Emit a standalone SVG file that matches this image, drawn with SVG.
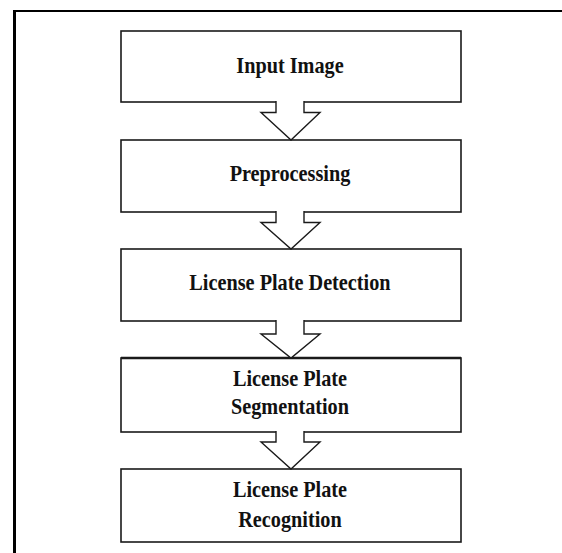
<svg xmlns="http://www.w3.org/2000/svg" width="562" height="553" viewBox="0 0 562 553">
<style>
.box{fill:#fff;stroke:#1a1a1a;stroke-width:1.6}
.arr{fill:#fff;stroke:#1a1a1a;stroke-width:1.4;stroke-linejoin:miter}
.t{font-family:"Liberation Serif","Times New Roman",serif;font-weight:bold;font-size:22.5px;fill:#111;text-anchor:middle}
.frame{stroke:#000;fill:none}
</style>
<rect width="562" height="553" fill="#fff"/>
<g id="frame">
<line class="frame" x1="13" y1="11" x2="562" y2="11" stroke-width="2.2"/>
<line class="frame" x1="14.5" y1="10" x2="14.5" y2="553" stroke-width="3"/>
</g>
<g id="n1">
<rect class="box" x="121" y="31" width="340" height="71"/>
<text class="t" transform="scale(0.9,1)" x="322.2" y="73">Input Image</text>
</g>
<g id="n2">
<rect class="box" x="121" y="140" width="340" height="72"/>
<text class="t" transform="scale(0.9,1)" x="322.2" y="181">Preprocessing</text>
</g>
<g id="n3">
<rect class="box" x="121" y="249" width="340" height="72"/>
<text class="t" transform="scale(0.9,1)" x="322.2" y="290">License Plate Detection</text>
</g>
<g id="n4">
<rect class="box" x="121" y="358" width="340" height="74"/>
<line x1="121" y1="358" x2="461" y2="358" stroke="#1a1a1a" stroke-width="2.4"/>
<text class="t" transform="scale(0.9,1)" x="322.2" y="386">License Plate</text>
<text class="t" transform="scale(0.9,1)" x="322.2" y="414">Segmentation</text>
</g>
<g id="n5">
<rect class="box" x="121" y="469" width="340" height="73"/>
<text class="t" transform="scale(0.9,1)" x="322.2" y="497">License Plate</text>
<text class="t" transform="scale(0.9,1)" x="322.2" y="527">Recognition</text>
</g>
<g id="connectors">
<path class="arr" d="M276,101 V112.5 H261 L291,140 L320,112.5 H304 V101"/>
<path class="arr" d="M276,211 V222.5 H261 L291,249 L320,222.5 H304 V211"/>
<path class="arr" d="M276,320 V334 H261 L291,358 L320,334 H304 V320"/>
<path class="arr" d="M276,431 V442 H261 L291,469 L320,442 H304 V431"/>
</g>
</svg>
